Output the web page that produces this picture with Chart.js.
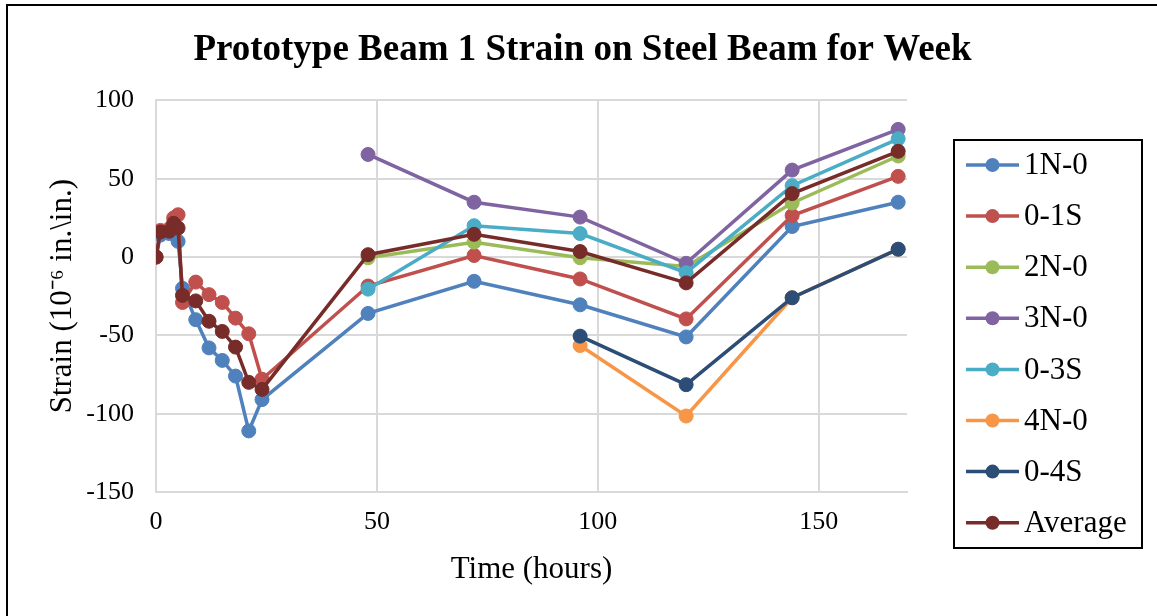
<!DOCTYPE html>
<html>
<head>
<meta charset="utf-8">
<script src="https://cdn.jsdelivr.net/npm/chart.js@4.4.1/dist/chart.umd.min.js"></script>
<style>
  html, body { margin: 0; padding: 0; background: #fff; }
  #wrap { width: 1157px; height: 616px; }
</style>
</head>
<body>
<div id="wrap"><canvas id="strainChart"></canvas></div>
<script>
// gauge readings, microstrain, by hour after placement
const hours = [0, 1, 3, 4, 5, 6, 9, 12, 15, 18, 21, 24, 48, 72, 96, 120, 144, 168];

const s1N0   = [0, 14, 15, 18, 10, -20, -40, -58, -66, -76, -111, -91, -36, -15.5, -30.5, -51, 19.5, 35];
const s01S   = [0, 17, 18, 25, 27, -29, -16, -24, -29, -39, -49, -78, -18.5, 1, -14, -39.5, 26.5, 51.5];
const s2N0   = [null, null, null, null, null, null, null, null, null, null, null, null, -0.5, 9.5, -0.5, -6, 34.5, 64.5];
const s3N0   = [null, null, null, null, null, null, null, null, null, null, null, null, 65.5, 35, 25.5, -4, 55.5, 81.5];
const s03S   = [null, null, null, null, null, null, null, null, null, null, null, null, -20.5, 20, 15, -10, 45.5, 75.5];
const s4N0   = [null, null, null, null, null, null, null, null, null, null, null, null, null, null, -56.5, -101.5, -26, 5];
const s04S   = [null, null, null, null, null, null, null, null, null, null, null, null, null, null, -50.5, -81.5, -26, 5];
const sAvg   = [0, 16, 16.5, 21.5, 18.5, -24.5, -28, -41, -47.5, -57.5, -80, -84.5, 1.5, 14.5, 3.5, -16.5, 40.5, 67.5];

const seriesNames = ['1N-0', '0-1S', '2N-0', '3N-0', '0-3S', '4N-0', '0-4S', 'Average'];
const seriesData = [s1N0, s01S, s2N0, s3N0, s03S, s4N0, s04S, sAvg];
const seriesColors = ['#4F81BD', '#C0504D', '#9BBB59', '#8064A2', '#4BACC6', '#F79646', '#2C4D75', '#772C2A'];

const yTicks = [-150, -100, -50, 0, 50, 100];
const xTicks = [0, 50, 100, 150];

const serif = "'Liberation Serif', 'Times New Roman', serif";
Chart.defaults.font.family = serif;
Chart.defaults.color = '#000';

function toPoints(values) {
  const pts = [];
  values.forEach((v, i) => {
    if (v !== null) pts.push({ x: hours[i], y: v });
  });
  return pts;
}

const datasets = seriesNames.map((name, i) => ({
  label: name,
  data: toPoints(seriesData[i]),
  borderColor: seriesColors[i],
  backgroundColor: seriesColors[i],
  pointBackgroundColor: seriesColors[i],
  pointBorderColor: seriesColors[i],
  pointRadius: 7,
  pointBorderWidth: 1,
  borderWidth: 3.5,
  tension: 0,
  // later series sit on top, like the spreadsheet draws them
  order: seriesNames.length - 1 - i
}));

// white page with the frame on the left and top edges
const frame = {
  id: 'frame',
  beforeDraw(chart) {
    const ctx = chart.ctx;
    ctx.save();
    ctx.fillStyle = '#fff';
    ctx.fillRect(0, 0, chart.width, chart.height);
    ctx.strokeStyle = '#000';
    ctx.lineWidth = 2;
    ctx.beginPath();
    ctx.moveTo(7, chart.height);
    ctx.lineTo(7, 5);
    ctx.lineTo(chart.width, 5);
    ctx.stroke();
    ctx.restore();
  }
};

// boxed legend with a line + marker sample per series
const boxedLegend = {
  id: 'boxedLegend',
  afterDraw(chart) {
    const ctx = chart.ctx;
    const left = 954, top = 140, w = 188, h = 408;
    const rowH = 51.1, firstRow = 165;
    ctx.save();
    ctx.strokeStyle = '#000';
    ctx.lineWidth = 2;
    ctx.strokeRect(left, top, w, h);
    ctx.font = '31px ' + serif;
    ctx.textBaseline = 'middle';
    ctx.textAlign = 'left';
    chart.data.datasets.forEach((ds, i) => {
      const y = firstRow + i * rowH;
      ctx.strokeStyle = ds.borderColor;
      ctx.lineWidth = 3.5;
      ctx.beginPath();
      ctx.moveTo(966, y);
      ctx.lineTo(1019, y);
      ctx.stroke();
      ctx.fillStyle = ds.borderColor;
      ctx.beginPath();
      ctx.arc(992.5, y, 7, 0, Math.PI * 2);
      ctx.fill();
      ctx.fillStyle = '#000';
      ctx.fillText(ds.label, 1024, y + 1);
    });
    ctx.restore();
  }
};

new Chart(document.getElementById('strainChart'), {
  type: 'line',
  data: { datasets },
  plugins: [frame, boxedLegend],
  options: {
    responsive: true,
    maintainAspectRatio: false,
    animation: false,
    layout: { padding: { left: 8, right: 0, top: 0, bottom: 0 } },
    plugins: {
      legend: { display: false },
      tooltip: { enabled: false },
      title: {
        display: true,
        text: 'Prototype Beam 1 Strain on Steel Beam for Week',
        font: { size: 37, weight: 'bold', family: serif },
        color: '#000',
        padding: { top: 28, bottom: 28 }
      }
    },
    scales: {
      x: {
        type: 'linear',
        min: 0,
        max: 170,
        afterFit(scale) { scale.height = 124; },
        afterBuildTicks(scale) { scale.ticks = xTicks.map(v => ({ value: v })); },
        ticks: { font: { size: 26 }, padding: 15, color: '#000', includeBounds: false },
        grid: { color: '#D9D9D9', lineWidth: 2, drawTicks: false },
        border: { color: '#D9D9D9', width: 2 },
        title: {
          display: true,
          text: 'Time (hours)',
          font: { size: 31 },
          color: '#000',
          padding: { top: 0, bottom: 28 }
        }
      },
      y: {
        min: -150,
        max: 100,
        afterFit(scale) { scale.width = 148; },
        afterBuildTicks(scale) { scale.ticks = yTicks.map(v => ({ value: v })); },
        ticks: { font: { size: 26 }, padding: 22, color: '#000' },
        grid: { color: '#D9D9D9', lineWidth: 2, drawTicks: false },
        border: { color: '#D9D9D9', width: 2 },
        title: {
          display: true,
          text: 'Strain (10⁻⁶ in.\\in.)',
          font: { size: 31 },
          color: '#000',
          padding: { top: 36, bottom: 0 }
        }
      },
      // empty strip on the right that holds the legend box
      legendSpace: {
        type: 'linear',
        position: 'right',
        min: 0,
        max: 1,
        afterFit(scale) { scale.width = 250; },
        ticks: { display: false },
        grid: { display: false, drawTicks: false },
        border: { display: false }
      }
    }
  }
});
</script>
</body>
</html>
